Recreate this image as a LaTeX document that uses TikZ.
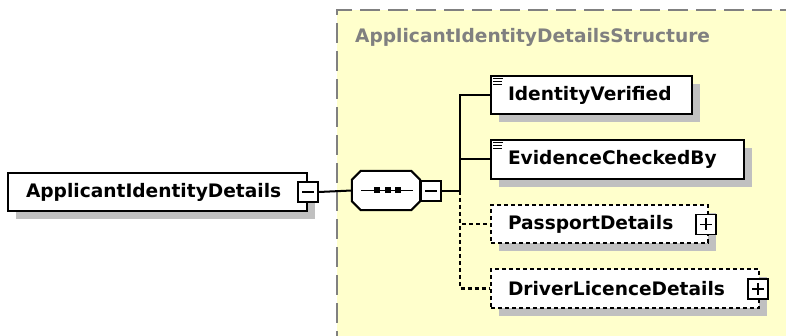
\documentclass[tikz,border=0pt]{standalone}
\usepackage{fontspec}
\setsansfont{DejaVu Sans}
\usetikzlibrary{shadows,calc}
\definecolor{bgyellow}{HTML}{FFFFCC}
\definecolor{shadowgray}{HTML}{C0C0C0}
\definecolor{framegray}{HTML}{808080}
\newcommand{\elbox}[3]{\makebox[#1pt][l]{\hspace*{#2pt}#3}}
\begin{document}
\begin{tikzpicture}[x=1pt,y=-1pt,
  elemfont/.style={font=\fontsize{18.6}{22}\selectfont\sffamily\bfseries},
  elem/.style={draw=black, fill=white, line width=2pt, minimum height=38pt,
    inner xsep=0pt, inner ysep=0pt, anchor=north west, elemfont,
    general shadow={fill=shadowgray, shadow xshift=8pt, shadow yshift=-8pt}},
  optelem/.style={elem, dash pattern=on 4pt off 3pt},
  togglebox/.style={draw=black, fill=white, line width=1.6pt, minimum size=20pt, inner sep=0pt},
  conn/.style={line width=2pt},
  optconn/.style={conn, dash pattern=on 4pt off 3pt},
  sign/.style={line width=1.5pt},
  docline/.style={line width=1.2pt},
]
\useasboundingbox (0,0) rectangle (786,336);
\clip (0,0) rectangle (786,336);

% structure background
\fill[bgyellow] (337,10) rectangle (800,350);
\draw[framegray, line width=2pt, dash pattern=on 20pt off 8pt] (800,10) -- (337,10) -- (337,350);
\node[anchor=base west, text=framegray, elemfont, inner sep=0pt] (title) at (355,43) {ApplicantIdentityDetailsStructure};

% root element
\node[elem] (root) at (7,172) {\elbox{299}{18}{ApplicantIdentityDetails}};
\node[togglebox] (rootmin) at (root.east) {};
\draw[sign] ($(rootmin.center)+(-6,0)$) -- ($(rootmin.center)+(6,0)$);

% sequence compositor
\node[minimum width=68pt, minimum height=39pt, inner sep=0pt] (seq) at (386,190.5) {};
\fill[shadowgray, shift={(8,8)}]
  ($(seq.north west)+(9,0)$) -- ($(seq.north east)+(-9,0)$) -- ($(seq.north east)+(0,9)$)
  -- ($(seq.south east)+(0,-9)$) -- ($(seq.south east)+(-9,0)$) -- ($(seq.south west)+(9,0)$)
  -- ($(seq.south west)+(0,-9)$) -- ($(seq.north west)+(0,9)$) -- cycle;
\filldraw[fill=white, line width=2pt]
  ($(seq.north west)+(9,0)$) -- ($(seq.north east)+(-9,0)$) -- ($(seq.north east)+(0,9)$)
  -- ($(seq.south east)+(0,-9)$) -- ($(seq.south east)+(-9,0)$) -- ($(seq.south west)+(9,0)$)
  -- ($(seq.south west)+(0,-9)$) -- ($(seq.north west)+(0,9)$) -- cycle;
\draw[line width=1.8pt] ($(seq.center)+(-25,0)$) -- ($(seq.center)+(27,0)$);
\foreach \dx in {-9,1.5,12}
  \fill ($(seq.center)+(\dx-3,-3)$) rectangle ($(seq.center)+(\dx+3,3)$);
\node[togglebox] (seqmin) at (431,191) {};
\draw[sign] ($(seqmin.center)+(-6,0)$) -- ($(seqmin.center)+(6,0)$);

\coordinate (j) at (460,191);

% children
\node[elem] (iv) at (490,75) {\elbox{201}{17}{IdentityVerified}};
\node[elem, minimum height=39pt] (ecb) at (490,139) {\elbox{253}{17}{EvidenceCheckedBy}};
\node[optelem] (pd) at (490,204) {\elbox{217}{17}{PassportDetails}};
\node[optelem, minimum height=39pt] (dl) at (490,268) {\elbox{268}{17}{DriverLicenceDetails}};

% documentation marks
\foreach \n in {iv,ecb}{
  \draw[docline] ($(\n.north west)+(3,3.5)$) -- ($(\n.north west)+(13,3.5)$);
  \draw[docline] ($(\n.north west)+(3,6.5)$) -- ($(\n.north west)+(12,6.5)$);
  \draw[docline] ($(\n.north west)+(3,9.5)$) -- ($(\n.north west)+(12,9.5)$);
}

% expand boxes
\node[togglebox] (pdplus) at ($(pd.east)+(-3,0.5)$) {};
\draw[sign] ($(pdplus.center)+(-6,0)$) -- ($(pdplus.center)+(6,0)$);
\draw[sign] ($(pdplus.center)+(0,-6)$) -- ($(pdplus.center)+(0,6)$);
\node[togglebox] (dlplus) at ($(dl.east)+(-2,0.5)$) {};
\draw[sign] ($(dlplus.center)+(-6,0)$) -- ($(dlplus.center)+(6,0)$);
\draw[sign] ($(dlplus.center)+(0,-6)$) -- ($(dlplus.center)+(0,6)$);

% connectors
\draw[conn] (rootmin.east) -- (seq.west);
\draw[conn] (seqmin.east) -- (j);
\draw[conn] (iv.west) -| (j);
\draw[conn] (ecb.west) -- (ecb.west -| j);
\draw[optconn] (j) |- (pd.west);
\draw[optconn] (j) |- (dl.west);
\end{tikzpicture}
\end{document}
